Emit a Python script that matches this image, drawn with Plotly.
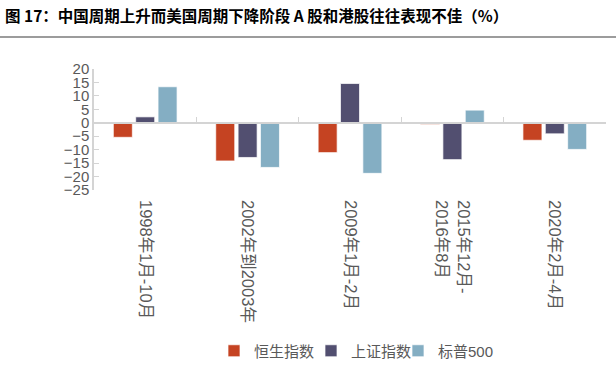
import plotly.graph_objects as go

categories = ["1998年1月-10月", "2002年到2003年", "2009年1月-2月", "2015年12月-<br>2016年8月", "2020年2月-4月"]
hsi = [-5.4, -14.2, -11.1, -0.6, -6.5]
sse = [2.2, -12.9, 14.6, -13.7, -4.1]
sp500 = [13.4, -16.6, -18.8, 4.7, -9.9]
series_names = ["恒生指数", "上证指数", "标普500"]
colors = ["#C54322", "#524F70", "#84AEC3"]
y_ticks = list(range(-25, 21, 5))

W, H = 616, 365
L, R, T, B = 94, 10, 69, 175
ph = H - T - B
pw = W - L - R

FONT = "Arial, 'Liberation Sans', 'Noto Sans CJK SC', sans-serif"

legend_ids = ["legend", "legend2", "legend3"]
legend_text_px = [254, 351, 438]  # where each legend label begins

fig = go.Figure()
for name, vals, c, lg in zip(series_names, [hsi, sse, sp500], colors, legend_ids):
    fig.add_trace(go.Bar(
        x=categories, y=vals, name=name, legend=lg,
        marker=dict(color=c, line=dict(color="rgba(255,255,255,0.7)", width=1)),
    ))

ymin, ymax = -25, 20
zero_frac = (0 - ymin) / (ymax - ymin)

fig.add_trace(go.Scatter(x=[0], y=[0], xaxis="x2", yaxis="y", mode="markers",
                         marker=dict(opacity=0), showlegend=False, hoverinfo="skip"))

legend_common = dict(
    orientation="h", xanchor="left", yanchor="middle",
    y=(T + ph - 351) / ph, itemwidth=30,
    font=dict(size=15, color="#595959"), bgcolor="rgba(0,0,0,0)",
)
legends = {}
for lg, px in zip(legend_ids, legend_text_px):
    legends[lg] = dict(legend_common, x=(px - 40 - L) / pw)

fig.update_layout(
    width=W, height=H,
    margin=dict(l=L, r=R, t=T, b=B, autoexpand=False),
    paper_bgcolor="white", plot_bgcolor="white",
    barmode="group", bargap=0.345, bargroupgap=0.15,
    font=dict(family=FONT, color="#595959"),
    title=dict(
        text="<b>图 17：中国周期上升而美国周期下降阶段 A 股和港股往往表现不佳（%）</b>",
        x=5 / W, xref="container", xanchor="left",
        y=1 - 17 / H, yref="container", yanchor="middle",
        font=dict(family="'Noto Sans CJK SC', sans-serif", size=15.5, color="#000000"),
    ),
    xaxis=dict(
        type="category", range=[-0.5, 4.5], automargin=False,
        showline=False, ticks="", showgrid=False, zeroline=False,
        tickangle=90, tickfont=dict(size=16.5, color="#595959"),
        ticklabelstandoff=9,
    ),
    xaxis2=dict(
        overlaying="x", anchor="free", position=zero_frac, side="bottom",
        range=[-0.5, 4.5], showgrid=False, zeroline=False, automargin=False,
        showline=True, linecolor="#D4D4D4", linewidth=1.5,
        ticks="inside", ticklen=5, tickcolor="#D4D4D4", tickwidth=1,
        tickvals=[-0.5, 0.5, 1.5, 2.5, 3.5, 4.5], showticklabels=False,
    ),
    yaxis=dict(
        range=[ymin, ymax], tickvals=y_ticks, showgrid=False, zeroline=False,
        showline=True, linecolor="#D4D4D4", linewidth=1.5, automargin=False,
        ticks="inside", ticklen=5, tickcolor="#D4D4D4",
        tickfont=dict(size=15, color="#595959"),
    ),
    showlegend=True,
    **legends,
)

# title underline
fig.add_shape(type="line", xref="paper", yref="paper",
              x0=-L / pw, x1=(W - L) / pw,
              y0=(T + ph - 37) / ph, y1=(T + ph - 37) / ph,
              line=dict(color="#3A3A3A", width=1.2))

fig.write_html("out.html", config={"displayModeBar": False},
               post_script="document.body.style.margin='0';document.body.style.overflow='hidden';")
